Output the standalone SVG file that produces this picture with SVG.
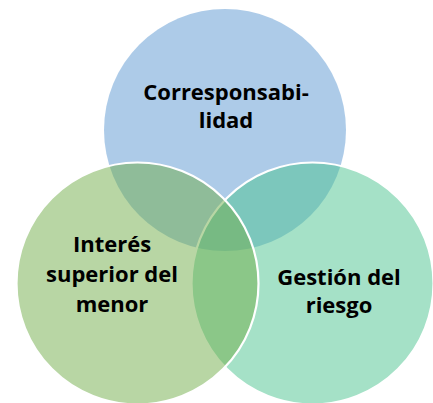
<svg xmlns="http://www.w3.org/2000/svg" width="433" height="403" viewBox="0 0 433 403">
<style>
.c{fill-opacity:0.5}
.s{stroke:#ffffff;stroke-width:2.2}
.t{font-family:"Open Sans","Noto Sans","DejaVu Sans",sans-serif;font-weight:bold;font-size:22px;fill:#000000;text-anchor:middle}
</style>
<rect width="433" height="403" fill="#ffffff"/>
<g id="top">
<circle class="c" cx="225" cy="130" r="121" fill="#5B97D1"/>
</g>
<g id="right">
<circle class="c s" cx="312.5" cy="283.5" r="121" fill="#4BC38F"/>
</g>
<g id="left">
<circle class="c s" cx="137.5" cy="283.5" r="121" fill="#71AD49"/>
</g>
<g id="labels">
<text class="t" x="226" y="100">Corresponsabi-</text>
<text class="t" x="226" y="128">lidad</text>
<text class="t" x="112" y="252">Interés</text>
<text class="t" x="112" y="282">superior del</text>
<text class="t" x="112" y="312">menor</text>
<text class="t" x="339" y="285">Gestión del</text>
<text class="t" x="339" y="313">riesgo</text>
</g>
</svg>
